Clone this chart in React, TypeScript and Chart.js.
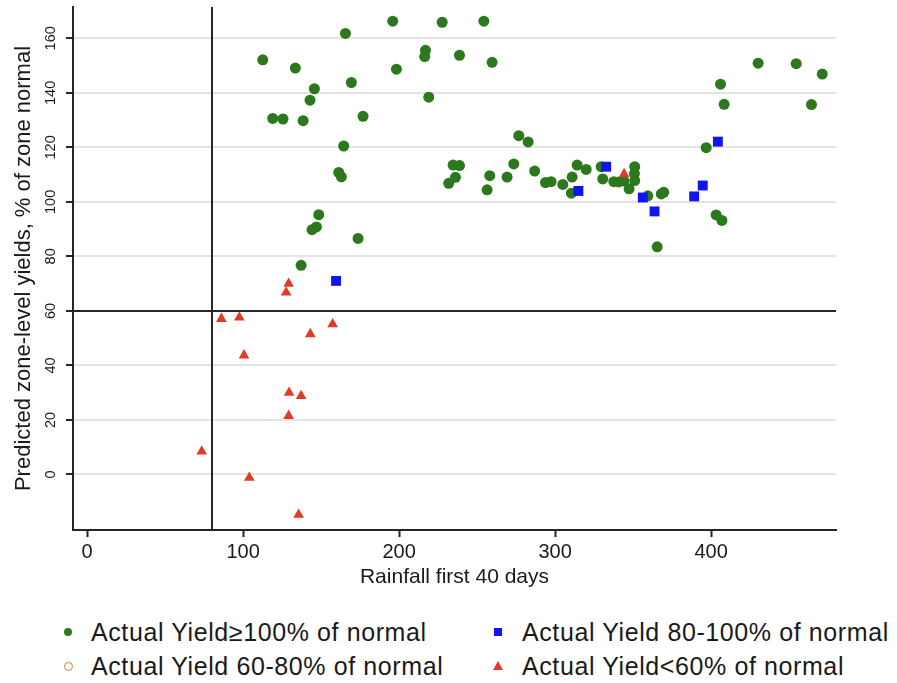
import React, { useEffect, useRef } from 'react';
import { Chart, registerables } from 'chart.js';

Chart.register(...registerables);

// ---- Data ----
const greenX = [
  165.6, 112.6, 133.5, 169.4, 145.7, 142.9, 119.0, 125.6, 138.5, 176.9, 164.5, 161.3, 163.0,
  148.5, 147.0, 144.2, 173.7, 137.2, 195.9, 227.6, 254.3, 216.9, 216.4, 238.7, 259.6, 198.3,
  219.0, 276.7, 282.7, 234.6, 238.7, 236.1, 231.8, 258.1, 256.4, 269.2, 273.5, 286.9, 293.8,
  297.4, 304.9, 310.9, 314.1, 319.9, 310.4, 329.5, 330.5, 337.6, 340.8, 344.0, 347.4, 351.0,
  350.8, 351.0, 430.1, 454.5, 471.2, 406.0, 408.3, 464.3, 396.8, 359.4, 368.0, 369.6, 403.2,
  406.9, 365.4,
];
const greenY = [
  161.8, 152.1, 149.1, 143.8, 141.5, 137.3, 130.6, 130.4, 129.8, 131.4, 120.5, 110.8, 109.2,
  95.3, 90.8, 89.8, 86.6, 76.7, 166.3, 165.9, 166.3, 155.6, 153.3, 153.8, 151.2, 148.7,
  138.4, 124.3, 122.0, 113.5, 113.3, 109.0, 106.8, 109.6, 104.4, 109.1, 113.9, 111.3, 107.1,
  107.4, 106.4, 109.1, 113.5, 111.9, 103.2, 112.9, 108.4, 107.4, 107.3, 107.7, 104.8, 112.9,
  110.4, 107.8, 150.9, 150.7, 146.9, 143.2, 135.8, 135.7, 119.9, 102.2, 102.9, 103.5, 95.2,
  93.2, 83.5,
];
const orangeX: number[] = [];
const orangeY: number[] = [];
const blueX = [159.6, 332.7, 314.9, 356.2, 363.7, 389.1, 394.6, 404.3];
const blueY = [71.0, 112.9, 104.0, 101.6, 96.5, 102.0, 106.0, 122.1];
const redX = [129.2, 127.6, 86.1, 97.6, 157.4, 143.1, 100.6, 129.5, 137.2, 129.2, 73.5, 104.0, 135.6, 344.2];
const redY = [70.0, 66.8, 57.1, 57.6, 55.1, 51.5, 43.7, 30.0, 28.8, 21.5, 8.4, -1.2, -14.8, 110.2];

const xTicks = [0, 100, 200, 300, 400];
const yTicks = [0, 20, 40, 60, 80, 100, 120, 140, 160];
const refX = 80;
const refY = 60;

const labels = [
  'Actual Yield\u2265100% of normal',
  'Actual Yield 60-80% of normal',
  'Actual Yield 80-100% of normal',
  'Actual Yield<60% of normal',
];
const xTitle = 'Rainfall first 40 days';
const yTitle = 'Predicted zone-level yields, % of zone normal';

const GREEN = '#2c781d';
const ORANGE = '#e07b39';
const BLUE = '#1014f0';
const RED = '#e03a28';
const DARK = '#262626';
const TEXT = '#1a1a1a';
const FONT = '"Liberation Sans", Arial, sans-serif';

const toPts = (xs: number[], ys: number[]) => xs.map((x, i) => ({ x, y: ys[i] }));

export default function App() {
  const ref = useRef<HTMLCanvasElement>(null);

  useEffect(() => {
    if (!ref.current) return;
    const refLines = {
      id: 'refLines',
      beforeDatasetsDraw(chart: any) {
        const { ctx, chartArea, scales } = chart;
        const px = Math.round(scales.x.getPixelForValue(refX));
        ctx.save();
        ctx.strokeStyle = DARK;
        ctx.lineWidth = 2;
        ctx.beginPath();
        ctx.moveTo(px, chartArea.top);
        ctx.lineTo(px, chartArea.bottom);
        ctx.stroke();
        ctx.restore();
      },
    };
    const chart = new Chart(ref.current, {
      type: 'scatter',
      data: {
        datasets: [
          {
            label: labels[0], data: toPts(greenX, greenY), pointStyle: 'circle', pointRadius: 5.5,
            backgroundColor: GREEN, borderColor: GREEN, borderWidth: 0, order: 4,
          },
          {
            label: labels[1], data: toPts(orangeX, orangeY), pointStyle: 'circle', pointRadius: 4.5,
            backgroundColor: 'rgba(0,0,0,0)', borderColor: ORANGE, borderWidth: 1.5, order: 3,
          },
          {
            label: labels[2], data: toPts(blueX, blueY), pointStyle: 'rect', pointRadius: 7,
            backgroundColor: BLUE, borderColor: BLUE, borderWidth: 0, order: 2,
          },
          {
            label: labels[3], data: toPts(redX, redY), pointStyle: 'triangle', pointRadius: 6.2,
            backgroundColor: RED, borderColor: RED, borderWidth: 0, order: 1,
          },
        ],
      } as any,
      options: {
        animation: false,
        responsive: false,
        maintainAspectRatio: false,
        devicePixelRatio: 1,
        layout: { padding: { left: 0, right: 61, top: 3, bottom: 0 } },
        plugins: { legend: { display: false }, tooltip: { enabled: false } },
        scales: {
          x: {
            type: 'linear',
            min: -9,
            max: 480,
            afterBuildTicks: (s: any) => { s.ticks = xTicks.map((v) => ({ value: v })); },
            afterFit: (s: any) => { s.height = 70; s.paddingLeft = 0; s.paddingRight = 0; },
            grid: { drawOnChartArea: false, drawTicks: true, tickLength: 7, tickWidth: 2, tickColor: DARK },
            border: { display: true, color: DARK, width: 2 },
            ticks: {
              autoSkip: false, maxRotation: 0, minRotation: 0, padding: 5,
              font: { family: FONT, size: 20, lineHeight: 1 }, color: TEXT,
            },
            title: {
              display: true, text: xTitle, color: TEXT,
              font: { family: FONT, size: 21 }, padding: { top: 0, bottom: 10 },
            },
          },
          y: {
            type: 'linear',
            min: -20.4,
            max: 171.5,
            afterBuildTicks: (s: any) => { s.ticks = yTicks.map((v) => ({ value: v })); },
            afterFit: (s: any) => { s.width = 73; s.paddingTop = 0; s.paddingBottom = 0; },
            grid: {
              color: (c: any) => (c.tick && c.tick.value === refY ? DARK : '#e4e4e4'),
              lineWidth: 2, drawTicks: true, tickLength: 7, tickWidth: 2, tickColor: DARK,
            },
            border: { display: true, color: DARK, width: 2 },
            ticks: {
              autoSkip: false, minRotation: 90, maxRotation: 90, crossAlign: 'center', padding: 3,
              font: { family: FONT, size: 14.5 }, color: TEXT,
            },
            title: {
              display: true, text: yTitle, color: TEXT,
              font: { family: FONT, size: 22 }, padding: { top: 11, bottom: 0 },
            },
          },
        },
      } as any,
      plugins: [refLines],
    });
    return () => chart.destroy();
  }, []);

  const textStyle = (left: number, cy: number): React.CSSProperties => ({
    position: 'absolute', left, top: cy - 15, height: 30, lineHeight: '30px',
    fontFamily: FONT, fontSize: 25, letterSpacing: '0.6px',
    color: TEXT, whiteSpace: 'nowrap',
  });

  return (
    <div style={{ position: 'absolute', left: 0, top: 0, width: 897, height: 683, background: '#fff', overflow: 'hidden' }}>
      <canvas ref={ref} width={897} height={600} style={{ display: 'block', width: 897, height: 600 }} />
      {/* Legend */}
      <div style={{ position: 'absolute', left: 64, top: 628, width: 8, height: 8, borderRadius: '50%', background: GREEN }} />
      <div style={textStyle(91, 632)}>{labels[0]}</div>
      <div style={{ position: 'absolute', left: 494, top: 628, width: 8, height: 8, background: BLUE }} />
      <div style={textStyle(522, 632)}>{labels[2]}</div>
      <div style={{ position: 'absolute', left: 63.5, top: 661.5, width: 9, height: 9, borderRadius: '50%', border: `1.5px solid ${ORANGE}`, boxSizing: 'border-box' }} />
      <div style={textStyle(91, 666)}>{labels[1]}</div>
      <div style={{ position: 'absolute', left: 493, top: 661, width: 10, height: 9, background: RED, clipPath: 'polygon(50% 0, 100% 100%, 0 100%)' }} />
      <div style={textStyle(522, 666)}>{labels[3]}</div>
    </div>
  );
}
